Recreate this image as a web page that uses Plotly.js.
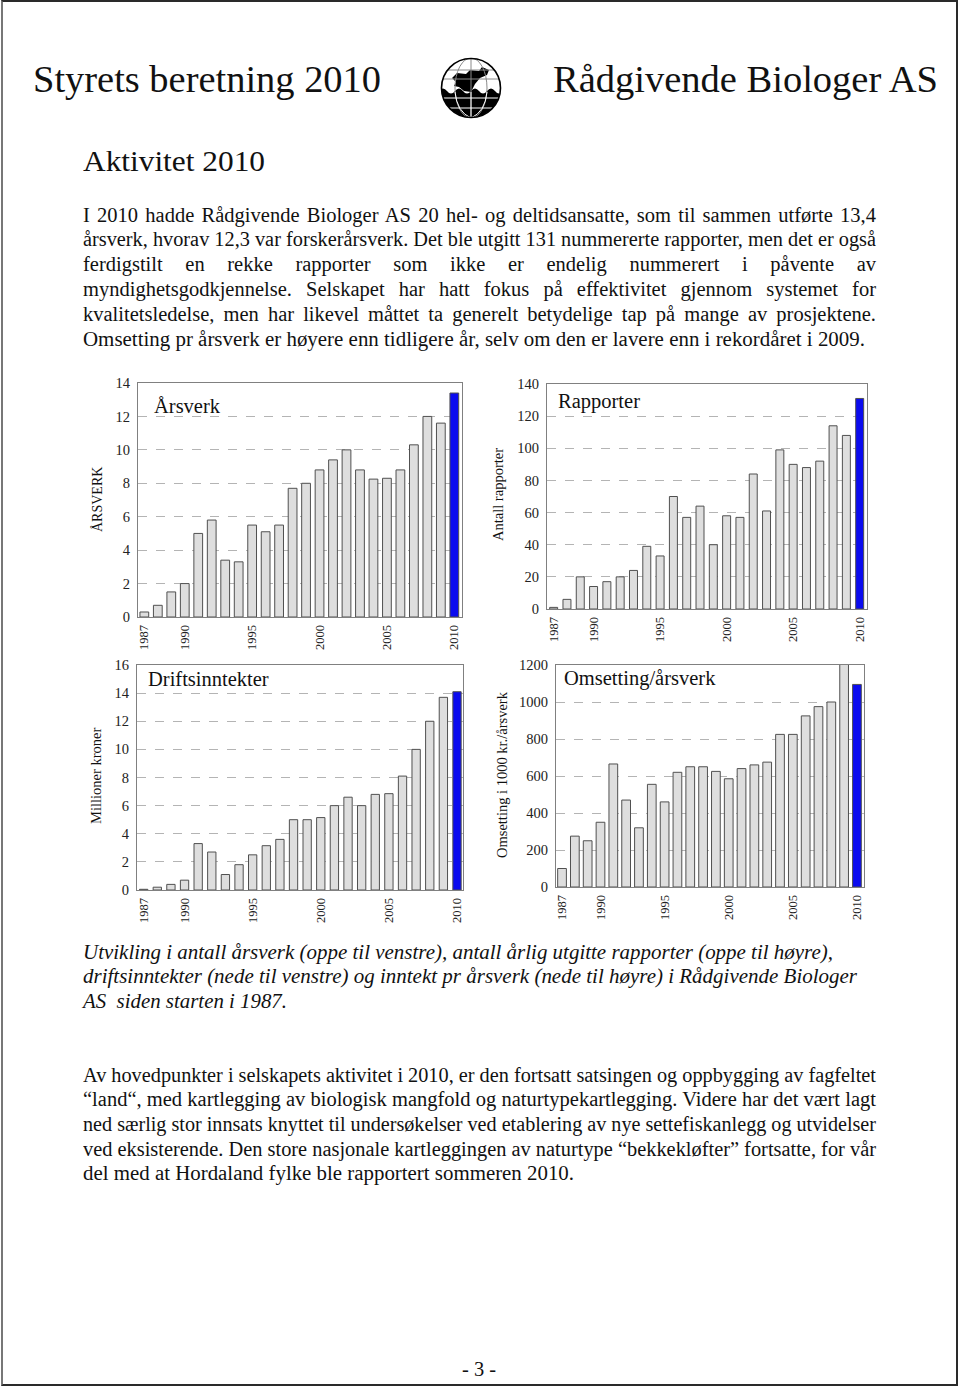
<!DOCTYPE html>
<html>
<head>
<meta charset="utf-8">
<script src="https://cdn.plot.ly/plotly-3.0.1.min.js"></script>
<style>
body { margin: 0; background: #fff; }
#page { position: relative; width: 960px; height: 1388px; overflow: hidden;
        font-family: "Liberation Serif", "Times New Roman", serif; color: #111; }
#frame { position: absolute; left: 1px; top: 0; width: 957px; height: 1386px;
         border: 2px solid #2a2a2a; border-left-color: #777; box-sizing: border-box; }
#plot { position: absolute; left: 0; top: 0; width: 960px; height: 1388px; }
.ln { position: absolute; white-space: pre; transform-origin: 0 50%; }
</style>
</head>
<body>
<div id="page">
  <div id="frame"></div>
  <div id="plot"></div>
  <svg id="logo" style="position:absolute;left:439px;top:56px" width="64" height="64" viewBox="0 0 64 64">
    <defs><clipPath id="gc"><circle cx="32" cy="32" r="29.5"/></clipPath></defs>
    <circle cx="32" cy="32" r="29.5" fill="#fff"/>
    <g clip-path="url(#gc)">
      <path d="M0 35 q4 -5 8 0 t8 0 t8 0 t8 0 t8 0 t8 0 t8 0 t8 0 V64 H0 Z" fill="#000"/>
      <path d="M13 22 l5 -5 l9 1 l4 -4 l9 1 l3 -4 l7 3 l-2 5 l-7 3 l-5 6 l-4 8 l-7 -1 l-5 -4 l-5 -1 l2 -4 z" fill="#000"/>
      <g fill="none" stroke="#8a8a8a" stroke-width="1">
        <line x1="32" y1="0" x2="32" y2="64"/>
        <ellipse cx="32" cy="32" rx="16" ry="30"/>
        <line x1="0" y1="14" x2="64" y2="14"/>
        <line x1="0" y1="23" x2="64" y2="23"/>
      </g>
      <g fill="none" stroke="#fff" stroke-width="1">
        <line x1="32" y1="36" x2="32" y2="64"/>
        <path d="M16 36 Q18 56 32 62 Q46 56 48 36"/>
        <line x1="0" y1="42" x2="64" y2="42"/>
        <line x1="0" y1="52" x2="64" y2="52"/>
      </g>
    </g>
    <circle cx="32" cy="32" r="29.5" fill="none" stroke="#000" stroke-width="1.6"/>
  </svg>
</div>
<script>
// ---- chart data ----
var years = [1987, 1988, 1989, 1990, 1991, 1992, 1993, 1994, 1995, 1996, 1997, 1998,
             1999, 2000, 2001, 2002, 2003, 2004, 2005, 2006, 2007, 2008, 2009, 2010];
var arsverk = [0.3, 0.7, 1.5, 2.0, 5.0, 5.8, 3.4, 3.3, 5.5, 5.1, 5.5, 7.7,
               8.0, 8.8, 9.4, 10.0, 8.8, 8.25, 8.3, 8.8, 10.3, 12.0, 11.6, 13.4];
var rapporter = [1, 6, 20, 14, 17, 20, 24, 39, 33, 70, 57, 64,
                 40, 58, 57, 84, 61, 99, 90, 88, 92, 114, 108, 131];
var driftsinntekter = [0.05, 0.2, 0.4, 0.7, 3.3, 2.7, 1.1, 1.8, 2.5, 3.15, 3.6, 5.0,
                       5.0, 5.15, 6.0, 6.6, 6.0, 6.8, 6.85, 8.1, 10.0, 12.0, 13.7, 14.1];
var omsetting = [100, 275, 250, 350, 665, 470, 320, 555, 460, 620, 650, 650,
                 625, 585, 640, 660, 675, 825, 825, 925, 975, 1000, 1215, 1095];
var tickYears = [1987, 1990, 1995, 2000, 2005, 2010];

// ---- page text ----
var page = document.getElementById("page");

function addLines(lines, o) {
    lines.forEach(function (t, i) {
        var d = document.createElement("div");
        d.className = "ln";
        d.textContent = t;
        d.style.left = (o.left || 83) + "px";
        d.style.fontSize = o.size + "px";
        d.style.lineHeight = o.lh + "px";
        d.style.top = (o.y0 + i * (o.step || 0) - o.lh / 2) + "px";
        if (o.italic) d.style.fontStyle = "italic";
        page.appendChild(d);
        var w = d.getBoundingClientRect().width;
        var target = o.widths[i];
        var just = o.justify && i < lines.length - 1;
        if (just && w < target - 1) {
            d.style.whiteSpace = "normal";
            d.style.width = target + "px";
            d.style.textAlign = "justify";
            d.style.textAlignLast = "justify";
        } else {
            d.style.transform = "scaleX(" + (target / w) + ")";
        }
    });
}

addLines(["Styrets beretning 2010"], {left: 33, size: 38, lh: 44, y0: 79, widths: [348]});
addLines(["Rådgivende Biologer AS"], {left: 553, size: 38, lh: 44, y0: 79, widths: [385]});
addLines(["Aktivitet 2010"], {left: 83, size: 30, lh: 35, y0: 160, widths: [182]});

addLines([
    "I 2010 hadde Rådgivende Biologer AS 20 hel- og deltidsansatte, som til sammen utførte 13,4",
    "årsverk, hvorav 12,3 var forskerårsverk. Det ble utgitt 131 nummererte rapporter, men det er også",
    "ferdigstilt en rekke rapporter som ikke er endelig nummerert i påvente av",
    "myndighetsgodkjennelse. Selskapet har hatt fokus på effektivitet gjennom systemet for",
    "kvalitetsledelse, men har likevel måttet ta generelt betydelige tap på mange av prosjektene.",
    "Omsetting pr årsverk er høyere enn tidligere år, selv om den er lavere enn i rekordåret i 2009."
], {size: 20.5, lh: 23, y0: 215, step: 24.8, justify: true,
    widths: [793, 793, 793, 793, 793, 782]});

addLines([
    "Utvikling i antall årsverk (oppe til venstre), antall årlig utgitte rapporter (oppe til høyre),",
    "driftsinntekter (nede til venstre) og inntekt pr årsverk (nede til høyre) i Rådgivende Biologer",
    "AS  siden starten i 1987."
], {size: 20, lh: 23, y0: 952, step: 24.6, italic: true, widths: [750, 774, 204]});

addLines([
    "Av hovedpunkter i selskapets aktivitet i 2010, er den fortsatt satsingen og oppbygging av fagfeltet",
    "“land“, med kartlegging av biologisk mangfold og naturtypekartlegging. Videre har det vært lagt",
    "ned særlig stor innsats knyttet til undersøkelser ved etablering av nye settefiskanlegg og utvidelser",
    "ved eksisterende. Den store nasjonale kartleggingen av naturtype “bekkekløfter” fortsatte, for vår",
    "del med at Hordaland fylke ble rapportert sommeren 2010."
], {size: 20.5, lh: 23, y0: 1075, step: 24.7, justify: true,
    widths: [793, 793, 793, 793, 491]});

addLines(["- 3 -"], {left: 462, size: 20, lh: 23, y0: 1369, widths: [34]});

// ---- charts ----
var W = 960, H = 1388;
var FONT = "Liberation Serif, Times New Roman, serif";

function barColors() {
    return years.map(function (y) { return y === 2010 ? "#0b0bef" : "#dedede"; });
}

function bars(vals, xa, ya, w) {
    return {
        type: "bar", x: years, y: vals, xaxis: xa, yaxis: ya, width: w,
        marker: {color: barColors(), line: {color: "#505050", width: 1}},
        hoverinfo: "x+y", showlegend: false
    };
}

function xAxis(L, R, range, anchor) {
    return {
        domain: [L / W, R / W], range: range, anchor: anchor,
        tickmode: "array", tickvals: tickYears, ticktext: tickYears.map(String),
        tickangle: -90, ticks: "", showgrid: false, zeroline: false,
        showline: true, mirror: true, linecolor: "#808080", linewidth: 1,
        ticklabelstandoff: 2,
        tickfont: {family: FONT, size: 12.5, color: "#222"}, fixedrange: true
    };
}

function yAxis(T, B, range, dtick, anchor) {
    return {
        domain: [1 - B / H, 1 - T / H], range: range, dtick: dtick, anchor: anchor,
        ticks: "", zeroline: false, showline: true, mirror: true,
        linecolor: "#808080", linewidth: 1,
        showgrid: true, gridcolor: "#b4b4b4", griddash: "dash", gridwidth: 1,
        ticklabelstandoff: 4,
        tickfont: {family: FONT, size: 14.5, color: "#222"}, fixedrange: true
    };
}

function label(text, px, py, size, angle, anchor) {
    return {
        text: text, xref: "paper", yref: "paper", x: px / W, y: 1 - py / H,
        xanchor: anchor || "center", yanchor: "middle", showarrow: false,
        textangle: angle || 0, font: {family: FONT, size: size, color: "#111"}
    };
}

var data = [
    bars(arsverk, "x", "y", 0.65),
    bars(rapporter, "x2", "y2", 0.6),
    bars(driftsinntekter, "x3", "y3", 0.61),
    bars(omsetting, "x4", "y4", 0.68)
];

var layout = {
    width: W, height: H,
    margin: {l: 0, r: 0, t: 0, b: 0},
    paper_bgcolor: "rgba(0,0,0,0)", plot_bgcolor: "rgba(0,0,0,0)",
    xaxis: xAxis(138, 462, [1986.53, 2010.57], "y"),
    yaxis: yAxis(383, 617, [0, 14], 2, "x"),
    xaxis2: xAxis(547, 867, [1986.5, 2010.55], "y2"),
    yaxis2: yAxis(384, 609, [0, 140], 20, "x2"),
    xaxis3: xAxis(137, 463, [1986.51, 2010.44], "y3"),
    yaxis3: yAxis(665, 890, [0, 16], 2, "x3"),
    xaxis4: xAxis(556, 864, [1986.53, 2010.55], "y4"),
    yaxis4: yAxis(665, 887, [0, 1200], 200, "x4"),
    annotations: [
        label("Årsverk", 152, 406, 20.5, 0, "left"),
        label("Rapporter", 556, 401, 20.5, 0, "left"),
        label("Driftsinntekter", 146, 679, 20.5, 0, "left"),
        label("Omsetting/årsverk", 562, 678, 20.5, 0, "left"),
        label("ÅRSVERK", 97, 500, 14, -90),
        label("Antall rapporter", 498, 495, 14.5, -90),
        label("Millioner kroner", 96, 776, 14.5, -90),
        label("Omsetting i 1000 kr./årsverk", 502, 775, 14.5, -90)
    ]
};

Plotly.newPlot("plot", data, layout, {displayModeBar: false});
</script>
</body>
</html>
